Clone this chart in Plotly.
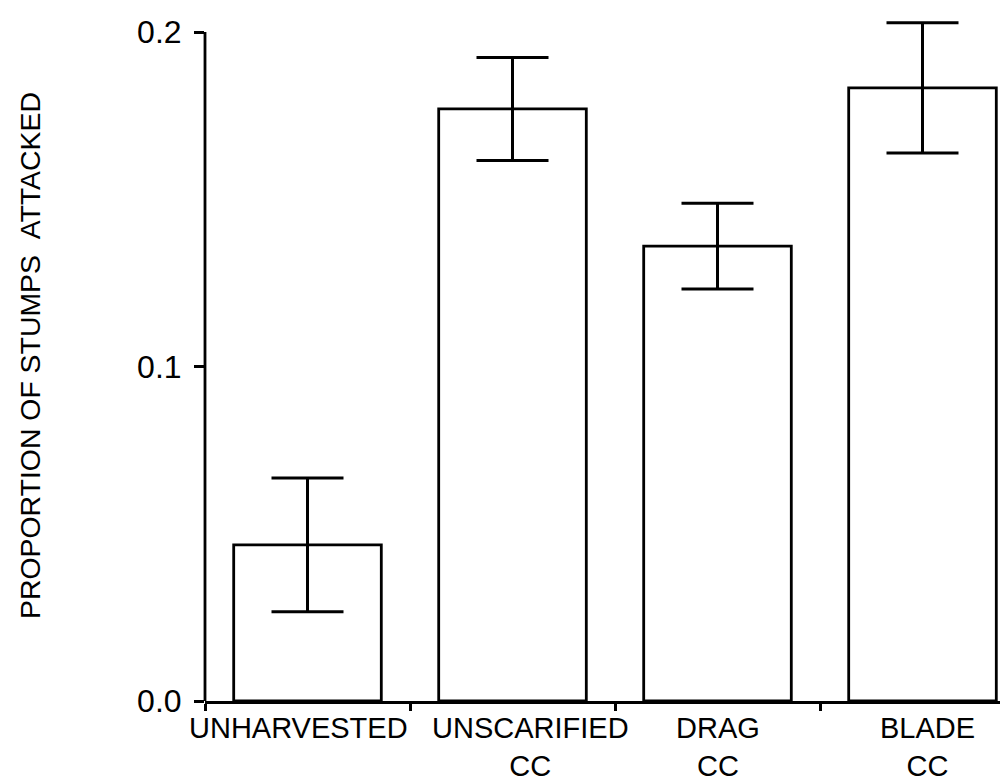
import plotly.graph_objects as go

categories = ["UNHARVESTED", "UNSCARIFIED<br>CC", "DRAG<br>CC", "BLADE<br>CC"]
proportion = [0.0467, 0.1770, 0.1360, 0.1833]
std_error = [0.0200, 0.0154, 0.0128, 0.0195]
y_ticks = [0.0, 0.1, 0.2]
y_tick_labels = ["0.0", "0.1", "0.2"]
y_title = "PROPORTION OF STUMPS \u00a0ATTACKED"

# horizontal nudge (px) of each category label, as printed in the original
label_nudge = [-9, 18, 0, 5]

W, H = 1008, 783
L, T, B = 197, 2, 90
plot_w = W - L
plot_h = H - T - B
px_per_unit = 3345.0  # pixels per y unit
px_per_cat = 205.0

fig = go.Figure()
fig.add_trace(go.Bar(
    x=categories,
    y=proportion,
    width=0.72,
    marker=dict(color="white", line=dict(color="black", width=2.8)),
    error_y=dict(type="data", array=std_error, visible=True,
                 color="black", thickness=3, width=36),
    showlegend=False,
))

font = "Liberation Sans, Arial, sans-serif"
fig.update_layout(
    width=W, height=H,
    margin=dict(l=L, r=0, t=T, b=B, autoexpand=False),
    paper_bgcolor="white", plot_bgcolor="white",
    font=dict(family=font, color="black", size=30),
    xaxis=dict(
        type="category",
        range=[-0.5, -0.5 + plot_w / px_per_cat],
        showline=True, linecolor="black", linewidth=2.8,
        ticks="outside", tickson="boundaries", ticklen=7, tickwidth=2.6,
        tickcolor="black", showgrid=False, zeroline=False,
        showticklabels=False,
        automargin=False,
    ),
    yaxis=dict(
        range=[0, plot_h / px_per_unit],
        tickvals=y_ticks, ticktext=y_tick_labels,
        ticks="outside", ticklen=10, tickwidth=2.6, tickcolor="black",
        showline=False, showgrid=False, zeroline=False,
        ticklabelstandoff=6,
        tickfont=dict(family=font, size=32, color="black"),
        title=dict(text=y_title, font=dict(family=font, size=28.4, color="black"),
                   standoff=88),
        automargin=False,
    ),
)

# category labels (placed under each bar on the category axis)
for cat, dx in zip(categories, label_nudge):
    fig.add_annotation(
        x=cat, xref="x", y=0, yref="paper",
        text=cat, showarrow=False, xanchor="center", yanchor="top",
        xshift=dx, yshift=-9, align="center",
        font=dict(family=font, size=29, color="black"),
    )

# y-axis line running from 0 up to the top tick
fig.add_shape(type="line", xref="paper", yref="y", x0=0, x1=0,
              y0=y_ticks[0], y1=y_ticks[-1],
              line=dict(color="black", width=2.8), layer="above")

fig.write_html("out.html")
